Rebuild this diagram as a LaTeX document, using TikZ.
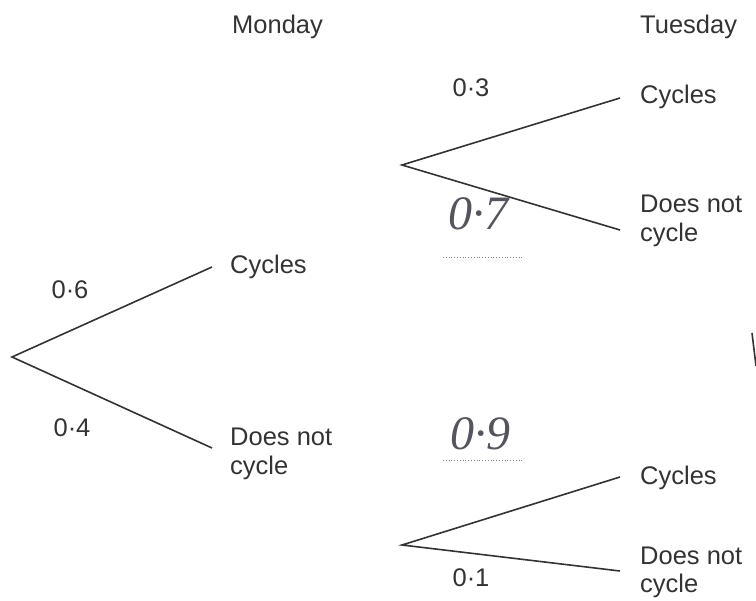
\documentclass[tikz,border=0pt]{standalone}
\usepackage{fontspec}
\setmainfont{Liberation Sans}
\newfontfamily\handfont{Liberation Serif}
\definecolor{ink}{HTML}{333333}
\definecolor{pen}{HTML}{55555F}
\begin{document}
\begin{tikzpicture}[x=1pt,y=-1pt,
  branch/.style={draw=ink,line width=1.6pt},
  lbl/.style={anchor=west,inner sep=0pt,text=ink,font=\fontsize{25.5}{29}\selectfont,align=left},
  prob/.style={inner sep=0pt,text=ink,font=\fontsize{25.5}{29}\selectfont},
  hand/.style={inner sep=0pt,text=pen,font=\handfont\itshape\fontsize{48}{50}\selectfont},
  answerline/.style={draw=gray,line width=0.8pt,dotted}]
\useasboundingbox (0,0) rectangle (756,601);
% headings
\node[lbl] (mon) at (232,27) {Monday};
\node[lbl] (tue) at (640,27) {Tuesday};
% tree 1
\coordinate (r1) at (12,357);
\coordinate (a1) at (212,267);
\coordinate (b1) at (212,448);
\draw[branch] (a1) -- (r1) -- (b1);
\node[lbl] (c1) at (230,267) {Cycles};
\node[lbl,anchor=north west] (d1) at (230,428) {Does not\\cycle};
\node[prob] (p6) at (70,290) {0·6};
\node[prob] (p4) at (72,428) {0·4};
% tree 2
\coordinate (r2) at (402,165);
\coordinate (a2) at (620,98);
\coordinate (b2) at (620,230);
\draw[branch] (a2) -- (r2) -- (b2);
\node[lbl] (c2) at (640,97) {Cycles};
\node[lbl,anchor=north west] (d2) at (640,195) {Does not\\cycle};
\node[prob] (p3) at (471,88) {0·3};
\node[hand] (p7) at (478,214) {0·7};
\coordinate (l7a) at (443,257);
\coordinate (l7b) at (523,257);
\draw[answerline] (l7a) -- (l7b);
% tree 3
\coordinate (r3) at (402,545);
\coordinate (a3) at (620,477);
\coordinate (b3) at (620,571);
\draw[branch] (a3) -- (r3) -- (b3);
\node[lbl] (c3) at (640,478) {Cycles};
\node[lbl,anchor=north west,font=\fontsize{25.5}{28}\selectfont] (d3) at (640,547) {Does not\\cycle};
\node[prob] (p1) at (471,578) {0·1};
\node[hand] (p9) at (480,434) {0·9};
\coordinate (l9a) at (443,460);
\coordinate (l9b) at (523,460);
\draw[answerline] (l9a) -- (l9b);
% stray pen mark
\coordinate (s1) at (752,333);
\coordinate (s2) at (756,366);
\draw[draw=ink,line width=1.6pt] (s1) -- (s2);
\end{tikzpicture}
\end{document}
